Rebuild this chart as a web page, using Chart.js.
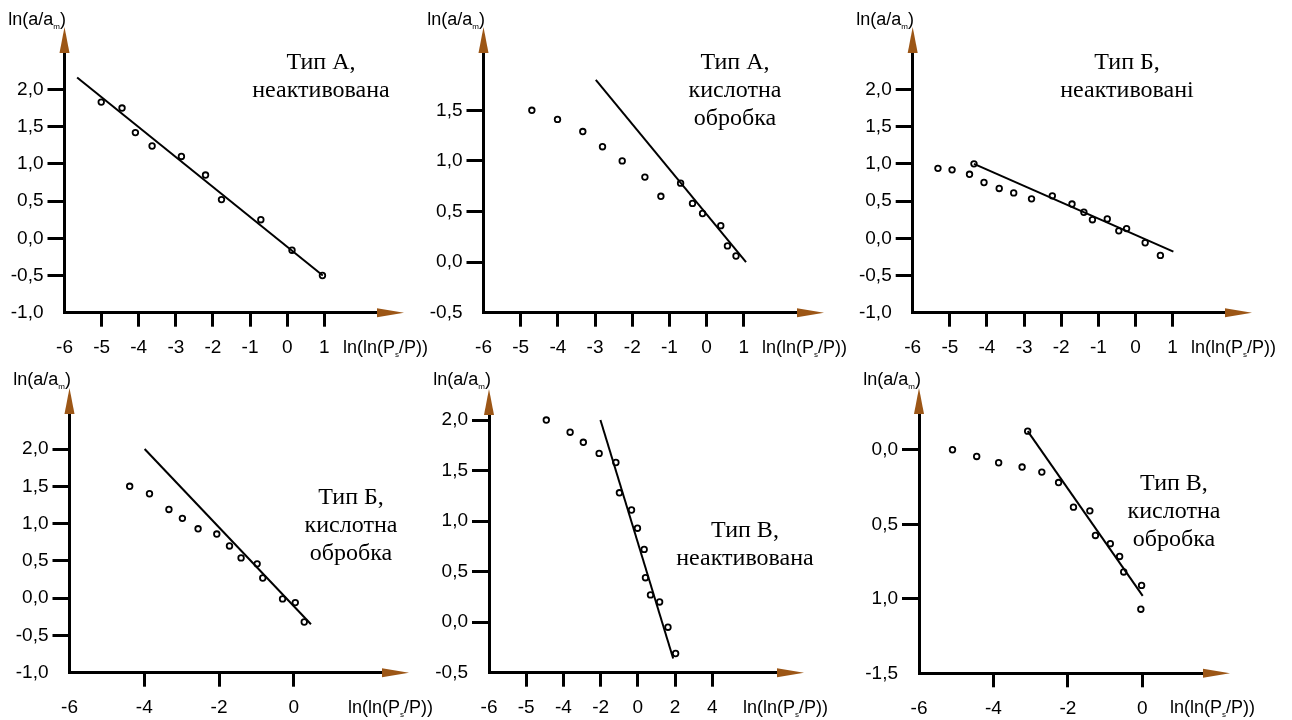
<!DOCTYPE html>
<html>
<head>
<meta charset="utf-8">
<title>ln(a/am) від ln(ln(Ps/P))</title>
<script src="https://cdn.jsdelivr.net/npm/chart.js"></script>
<style>
  body { margin: 0; background: #fff; }
  #page { position: relative; width: 1292px; height: 720px; overflow: hidden; }
  .layer { position: absolute; left: 0; top: 0; width: 1292px; height: 720px; }
  .ytitle, .xtitle { position: absolute; font-family: "Liberation Sans", Arial, sans-serif; font-size: 18px; line-height: 18px; white-space: nowrap; color: #000; }
  .ytitle { transform: translateX(-100%); }
  .xtitle { transform: translateY(-50%); }
  sub { font-size: 8px; vertical-align: -4px; line-height: 0; }
  .note { position: absolute; transform: translateX(-50%); font-family: "Liberation Serif", "Times New Roman", serif; font-size: 24px; line-height: 28px; text-align: center; white-space: nowrap; color: #000; }
</style>
</head>
<body>
<div id="page">
  <div class="layer"><canvas id="c1"></canvas></div>
  <div class="layer"><canvas id="c2"></canvas></div>
  <div class="layer"><canvas id="c3"></canvas></div>
  <div class="layer"><canvas id="c4"></canvas></div>
  <div class="layer"><canvas id="c5"></canvas></div>
  <div class="layer"><canvas id="c6"></canvas></div>

  <div class="ytitle" style="left:66px;top:10px">ln(a/a<sub>m</sub>)</div>
  <div class="ytitle" style="left:485px;top:10px">ln(a/a<sub>m</sub>)</div>
  <div class="ytitle" style="left:914px;top:10px">ln(a/a<sub>m</sub>)</div>
  <div class="ytitle" style="left:71px;top:370px">ln(a/a<sub>m</sub>)</div>
  <div class="ytitle" style="left:491px;top:370px">ln(a/a<sub>m</sub>)</div>
  <div class="ytitle" style="left:921px;top:370px">ln(a/a<sub>m</sub>)</div>

  <div class="xtitle" style="left:343px;top:347px">ln(ln(P<sub>s</sub>/P))</div>
  <div class="xtitle" style="left:762px;top:347px">ln(ln(P<sub>s</sub>/P))</div>
  <div class="xtitle" style="left:1191px;top:347px">ln(ln(P<sub>s</sub>/P))</div>
  <div class="xtitle" style="left:348px;top:707px">ln(ln(P<sub>s</sub>/P))</div>
  <div class="xtitle" style="left:743px;top:707px">ln(ln(P<sub>s</sub>/P))</div>
  <div class="xtitle" style="left:1170px;top:707px">ln(ln(P<sub>s</sub>/P))</div>

  <div class="note" style="left:321px;top:47px">Тип А,<br>неактивована</div>
  <div class="note" style="left:735px;top:47px">Тип А,<br>кислотна<br>обробка</div>
  <div class="note" style="left:1127px;top:47px">Тип Б,<br>неактивовані</div>
  <div class="note" style="left:351px;top:482px">Тип Б,<br>кислотна<br>обробка</div>
  <div class="note" style="left:745px;top:515px">Тип В,<br>неактивована</div>
  <div class="note" style="left:1174px;top:468px">Тип В,<br>кислотна<br>обробка</div>
</div>

<script type="text/javascript">

  // ---- data ----
  // Тип А, неактивована
  var x1 = [-5.01, -4.45, -4.09, -3.64, -2.85, -2.20, -1.77, -0.71, 0.13, 0.95];
  var y1 = [1.83, 1.75, 1.42, 1.24, 1.10, 0.85, 0.52, 0.25, -0.16, -0.50];
  var fitX1 = [-5.66, 0.96];
  var fitY1 = [2.16, -0.50];

  // Тип А, кислотна обробка
  var x2 = [-4.70, -4.01, -3.33, -2.80, -2.27, -1.66, -1.23, -0.70, -0.38, -0.11, 0.38, 0.56, 0.79];
  var y2 = [1.50, 1.41, 1.29, 1.14, 1.00, 0.84, 0.65, 0.78, 0.58, 0.48, 0.36, 0.16, 0.06];
  var fitX2 = [-2.98, 1.06];
  var fitY2 = [1.80, 0.00];

  // Тип Б, неактивовані
  var x3 = [-5.32, -4.94, -4.47, -4.35, -4.08, -3.67, -3.28, -2.80, -2.24, -1.71, -1.39, -1.16, -0.76, -0.45, -0.24, 0.26, 0.67];
  var y3 = [0.94, 0.92, 0.86, 1.00, 0.75, 0.67, 0.61, 0.53, 0.57, 0.46, 0.35, 0.25, 0.26, 0.10, 0.13, -0.06, -0.23];
  var fitX3 = [-4.35, 1.02];
  var fitY3 = [1.00, -0.18];

  // Тип Б, кислотна обробка
  var x4 = [-4.39, -3.86, -3.34, -2.98, -2.56, -2.06, -1.72, -1.41, -0.98, -0.83, -0.30, 0.04, 0.28];
  var y4 = [1.50, 1.40, 1.19, 1.07, 0.93, 0.86, 0.70, 0.54, 0.46, 0.27, -0.01, -0.06, -0.32];
  var fitX4 = [-3.99, 0.46];
  var fitY4 = [2.00, -0.35];

  // Тип В, неактивована (axis drawn 2 units per tick)
  var x5 = [-4.92, -3.64, -2.93, -2.08, -1.18, -0.99, -0.34, -0.02, 0.34, 0.41, 0.68, 1.17, 1.62, 2.03];
  var y5 = [2.00, 1.88, 1.78, 1.67, 1.58, 1.28, 1.11, 0.93, 0.72, 0.44, 0.27, 0.20, -0.05, -0.31];
  var fitX5 = [-2.01, 1.90];
  var fitY5 = [2.00, -0.36];

  // Тип В, кислотна обробка (value axis runs downwards)
  var x6 = [-5.10, -4.45, -3.86, -3.23, -2.70, -2.25, -1.85, -1.41, -1.26, -0.86, -0.61, -0.50, -0.02, -0.04, -3.08];
  var y6 = [0.00, 0.045, 0.087, 0.116, 0.15, 0.22, 0.385, 0.41, 0.575, 0.63, 0.716, 0.82, 0.91, 1.07, -0.125];
  var fitX6 = [-3.08, 0.01];
  var fitY6 = [-0.125, 0.98];

  // ---- tick values and labels ----
  var xTicksA = [-6, -5, -4, -3, -2, -1, 0, 1];
  var xLabelsA = ["-6", "-5", "-4", "-3", "-2", "-1", "0", "1"];
  var xTicksB = [-6, -4, -2, 0];
  var xLabelsB = ["-6", "-4", "-2", "0"];
  var xTicks5 = [-8, -6, -4, -2, 0, 2, 4];
  var xLabels5 = ["-6", "-5", "-4", "-2", "0", "2", "4"];

  var yTicksWide = [-1, -0.5, 0, 0.5, 1, 1.5, 2];
  var yLabelsWide = ["-1,0", "-0,5", "0,0", "0,5", "1,0", "1,5", "2,0"];
  var yTicks2 = [-0.5, 0, 0.5, 1, 1.5];
  var yLabels2 = ["-0,5", "0,0", "0,5", "1,0", "1,5"];
  var yTicks5 = [-0.5, 0, 0.5, 1, 1.5, 2];
  var yLabels5 = ["-0,5", "0,0", "0,5", "1,0", "1,5", "2,0"];
  var yTicks6 = [0, 0.5, 1, 1.5];
  var yLabels6 = ["0,0", "0,5", "1,0", "-1,5"];

  // ---- where each little plot sits on the page ----
  // axisX / axisY : corner of the axes, top : arrow base of y axis, right : arrow base of x axis
  var frames = [
    { axisX: 64.5, axisY: 312.7, top: 53,  right: 377,  xmin: -6, xmax: 2.42, ymin: -1,    ymax: 2.49, rev: false },
    { axisX: 483.5, axisY: 312.7, top: 53, right: 797,  xmin: -6, xmax: 2.43, ymin: -0.5,  ymax: 2.066, rev: false },
    { axisX: 912.7, axisY: 312.7, top: 53, right: 1225, xmin: -6, xmax: 2.41, ymin: -1,    ymax: 2.49, rev: false },
    { axisX: 69.5, axisY: 672.7, top: 414, right: 382,  xmin: -6, xmax: 2.36, ymin: -1,    ymax: 2.47, rev: false },
    { axisX: 489,  axisY: 672.7, top: 415, right: 777,  xmin: -8, xmax: 7.48, ymin: -0.5,  ymax: 2.05, rev: false },
    { axisX: 919,  axisY: 673.3, top: 414, right: 1203, xmin: -6, xmax: 1.63, ymin: -0.24, ymax: 1.5,  rev: true }
  ];

  var Y_WIDTH = 60;
  var X_HEIGHT = 44;
  var arrowColor = '#9c5616';

  var axisArrows = {
    id: 'axisArrows',
    afterDraw: function (chart) {
      var a = chart.chartArea;
      var c = chart.ctx;
      c.save();
      c.fillStyle = arrowColor;
      c.beginPath();
      c.moveTo(a.left - 5, a.top);
      c.lineTo(a.left + 5, a.top);
      c.lineTo(a.left, a.top - 26);
      c.closePath();
      c.fill();
      c.beginPath();
      c.moveTo(a.right, a.bottom - 4.5);
      c.lineTo(a.right, a.bottom + 4.5);
      c.lineTo(a.right + 27, a.bottom);
      c.closePath();
      c.fill();
      c.restore();
    }
  };

  function toPoints(xs, ys) {
    var out = [];
    for (var i = 0; i < xs.length; i++) out.push({ x: xs[i], y: ys[i] });
    return out;
  }

  function makePanel(id, f, xs, ys, fx, fy, xt, xl, yt, yl) {
    var corner = f.rev ? f.ymax : f.ymin;
    return new Chart(document.getElementById(id), {
      type: 'scatter',
      plugins: [axisArrows],
      data: {
        datasets: [
          {
            data: toPoints(xs, ys),
            pointRadius: 2.8,
            pointBorderWidth: 1.8,
            pointBorderColor: '#000',
            pointBackgroundColor: 'rgba(255,255,255,0)',
            showLine: false
          },
          {
            data: toPoints(fx, fy),
            showLine: true,
            borderColor: '#000',
            borderWidth: 2,
            pointRadius: 0
          }
        ]
      },
      options: {
        responsive: true,
        maintainAspectRatio: false,
        animation: false,
        events: [],
        layout: {
          padding: {
            left: f.axisX - Y_WIDTH,
            top: f.top,
            right: 1292 - f.right,
            bottom: 720 - f.axisY - X_HEIGHT
          }
        },
        plugins: { legend: { display: false }, tooltip: { enabled: false } },
        scales: {
          x: {
            type: 'linear',
            position: 'bottom',
            min: f.xmin,
            max: f.xmax,
            afterBuildTicks: function (s) { s.ticks = xt.map(function (v) { return { value: v }; }); },
            afterFit: function (s) { s.height = X_HEIGHT; },
            ticks: {
              autoSkip: false,
              maxRotation: 0,
              padding: 10,
              color: '#000',
              font: { family: 'Liberation Sans', size: 19 },
              callback: function (v, i) { return xl[i]; }
            },
            grid: {
              drawOnChartArea: false,
              drawTicks: true,
              tickLength: 14,
              tickWidth: 3,
              tickColor: function (ctx) { return (ctx.tick && ctx.tick.value === f.xmin) ? 'rgba(0,0,0,0)' : '#000'; }
            },
            border: { display: true, color: '#000', width: 3 }
          },
          y: {
            type: 'linear',
            position: 'left',
            reverse: f.rev,
            min: f.ymin,
            max: f.ymax,
            afterBuildTicks: function (s) { s.ticks = yt.map(function (v) { return { value: v }; }); },
            afterFit: function (s) { s.width = Y_WIDTH; },
            ticks: {
              autoSkip: false,
              padding: 4,
              color: '#000',
              font: { family: 'Liberation Sans', size: 19 },
              callback: function (v, i) { return yl[i]; }
            },
            grid: {
              drawOnChartArea: false,
              drawTicks: true,
              tickLength: 17,
              tickWidth: 3,
              tickColor: function (ctx) { return (ctx.tick && ctx.tick.value === corner) ? 'rgba(0,0,0,0)' : '#000'; }
            },
            border: { display: true, color: '#000', width: 3 }
          }
        }
      }
    });
  }

  var chart1 = makePanel('c1', frames[0], x1, y1, fitX1, fitY1, xTicksA, xLabelsA, yTicksWide, yLabelsWide);
  var chart2 = makePanel('c2', frames[1], x2, y2, fitX2, fitY2, xTicksA, xLabelsA, yTicks2, yLabels2);
  var chart3 = makePanel('c3', frames[2], x3, y3, fitX3, fitY3, xTicksA, xLabelsA, yTicksWide, yLabelsWide);
  var chart4 = makePanel('c4', frames[3], x4, y4, fitX4, fitY4, xTicksB, xLabelsB, yTicksWide, yLabelsWide);
  var chart5 = makePanel('c5', frames[4], x5, y5, fitX5, fitY5, xTicks5, xLabels5, yTicks5, yLabels5);
  var chart6 = makePanel('c6', frames[5], x6, y6, fitX6, fitY6, xTicksB, xLabelsB, yTicks6, yLabels6);

</script>
</body>
</html>
